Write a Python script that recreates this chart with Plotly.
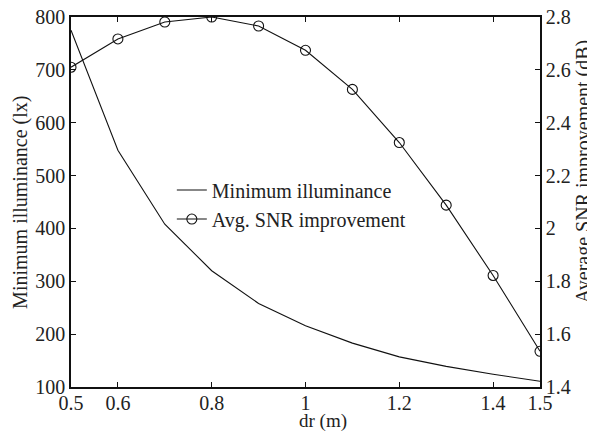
import plotly.graph_objects as go

dr = [0.5, 0.6, 0.7, 0.8, 0.9, 1.0, 1.1, 1.2, 1.3, 1.4, 1.5]
min_illuminance = [775, 548, 408, 320, 258, 216, 183, 157, 139, 124, 111]
snr_improvement = [2.61, 2.717, 2.781, 2.80, 2.766, 2.674, 2.526, 2.325, 2.088, 1.822, 1.535]

x_ticks = [0.5, 0.6, 0.8, 1, 1.2, 1.4, 1.5]
x_labels = ["0.5", "0.6", "0.8", "1", "1.2", "1.4", "1.5"]
y2_ticks = [1.4, 1.6, 1.8, 2.0, 2.2, 2.4, 2.6, 2.8]
y2_labels = ["1.4", "1.6", "1.8", "2", "2.2", "2.4", "2.6", "2.8"]

font = dict(family="Liberation Serif", size=20, color="#222")

fig = go.Figure()
fig.add_trace(go.Scatter(
    x=dr, y=min_illuminance, mode="lines", name="Minimum illuminance",
    line=dict(color="#111", width=1.1),
))
fig.add_trace(go.Scatter(
    x=dr, y=snr_improvement, mode="lines+markers", name="Avg. SNR improvement",
    yaxis="y2",
    line=dict(color="#111", width=1.1),
    marker=dict(symbol="circle-open", size=10, color="#111", line=dict(width=1.1)),
))

axis_common = dict(
    showgrid=False, zeroline=False, showline=True, linecolor="#111", linewidth=1.5,
    ticks="inside", ticklen=5, tickcolor="#111", tickfont=font, automargin=False,
    ticklabeloverflow="allow",
)

# the page body adds an 8px offset, so the figure is a bit smaller than the window
fig.update_layout(
    width=587, height=427,
    margin=dict(l=63, r=55, t=9, b=48),
    paper_bgcolor="white", plot_bgcolor="white",
    font=font,
    showlegend=True,
    legend=dict(
        x=0.215, y=0.585, xanchor="left", yanchor="top",
        bgcolor="rgba(0,0,0,0)", font=font,
        tracegroupgap=0, itemwidth=30,
    ),
    xaxis=dict(
        axis_common, range=[0.5, 1.5], tickvals=x_ticks, ticktext=x_labels,
        mirror="ticks", ticklabelstandoff=-3,
    ),
    yaxis=dict(axis_common, range=[100, 800], dtick=100),
    yaxis2=dict(
        axis_common, range=[1.4, 2.8], tickvals=y2_ticks, ticktext=y2_labels,
        overlaying="y", side="right",
    ),
)

# axis titles placed to match the original figure
fig.add_annotation(text="dr (m)", xref="paper", yref="paper", x=0.537, y=-0.092,
                   xanchor="center", yanchor="middle", showarrow=False,
                   font=dict(font, size=19))
fig.add_annotation(text="Minimum illuminance (lx)", xref="paper", yref="paper",
                   x=-0.109, y=0.50, xanchor="center", yanchor="middle",
                   textangle=-90, showarrow=False, font=font)
fig.add_annotation(text="Average SNR improvement (dB)", xref="paper", yref="paper",
                   x=1.092, y=0.581, xanchor="center", yanchor="middle",
                   textangle=-90, showarrow=False, font=font)

fig.write_html("out.html")
